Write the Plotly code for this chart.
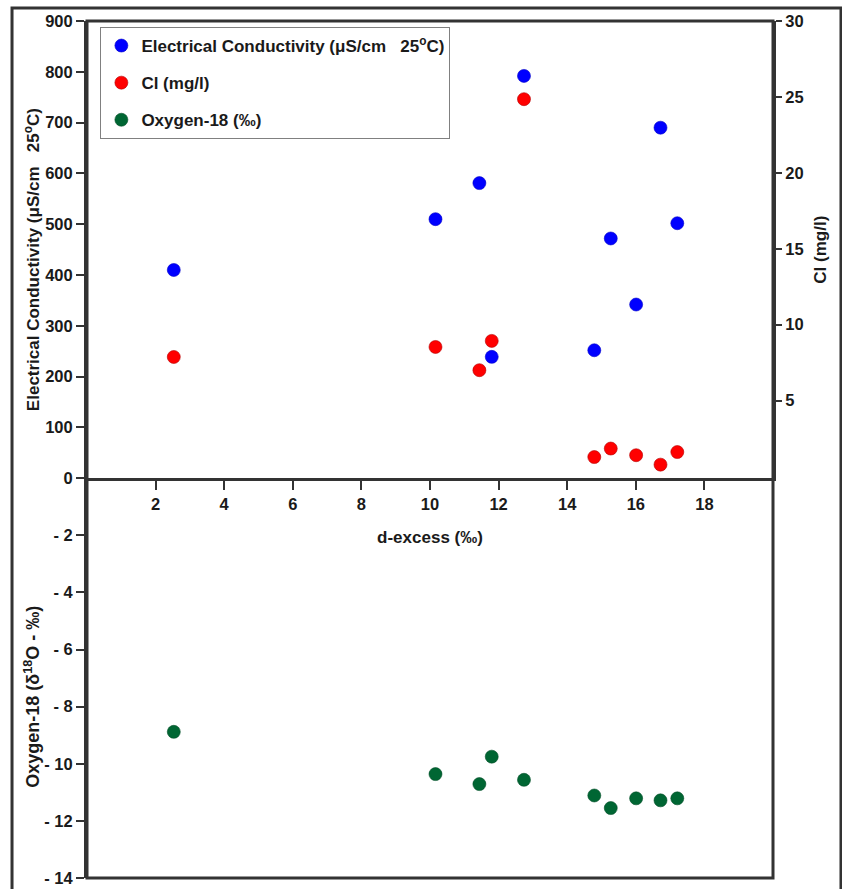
import plotly.graph_objects as go

# ---- data ----
d_excess = [2.53, 10.16, 11.44, 11.80, 12.74, 14.79, 15.27, 16.01, 16.72, 17.21]
ec_values = [410, 510, 581, 239, 792, 252, 472, 342, 690, 502]
cl_values = [7.87, 8.53, 7.00, 8.93, 24.85, 1.28, 1.84, 1.40, 0.78, 1.61]
o18_values = [-8.88, -10.36, -10.71, -9.75, -10.56, -11.11, -11.55, -11.21, -11.28, -11.21]

x_ticks = [2, 4, 6, 8, 10, 12, 14, 16, 18]
ec_ticks = [0, 100, 200, 300, 400, 500, 600, 700, 800, 900]
cl_ticks = [5, 10, 15, 20, 25, 30]
o18_ticks = [-2, -4, -6, -8, -10, -12, -14]
o18_ticktext = ["- 2", "- 4", "- 6", "- 8", "- 10", "- 12", "- 14"]

NB = "\u00a0"
ec_name = "Electrical Conductivity (μS/cm" + NB * 3 + "25<sup>o</sup>C)"
cl_name = "Cl (mg/l)"
o18_name = "Oxygen-18 (‰)"
o18_title = "Oxygen-18 (δ<sup>18</sup>O - ‰)"

FONT = "Liberation Sans, Arial, sans-serif"
AX = "#333333"
TXT = "#1a1a1a"
split = 0.4664

fig = go.Figure()
fig.add_trace(go.Scatter(
    x=d_excess, y=ec_values, mode="markers", name=ec_name,
    xaxis="x", yaxis="y", legendgroup="g1",
    marker=dict(color="#0000ff", size=13, line=dict(color="#0000c8", width=0.6)),
))
fig.add_trace(go.Scatter(
    x=d_excess, y=cl_values, mode="markers", name=cl_name,
    xaxis="x", yaxis="y2", legendgroup="g2",
    marker=dict(color="#ff0000", size=13, line=dict(color="#b30000", width=0.6)),
))
fig.add_trace(go.Scatter(
    x=d_excess, y=o18_values, mode="markers", name=o18_name,
    xaxis="x", yaxis="y3", legendgroup="g3",
    marker=dict(color="#006633", size=13, line=dict(color="#004d26", width=0.6)),
))

tickfont = dict(family=FONT, size=16.5, color=TXT, weight="bold")
titlefont = dict(family=FONT, size=17, color=TXT, weight="bold")

fig.update_layout(
    width=842, height=889,
    margin=dict(l=87, r=69, t=21, b=11),
    plot_bgcolor="white", paper_bgcolor="white",
    font=dict(family=FONT, size=16, color=TXT, weight="bold"),
    showlegend=True,
    legend=dict(
        x=0.0195, y=0.993, xanchor="left", yanchor="top",
        bordercolor="#808080", borderwidth=1, bgcolor="white",
        font=dict(family=FONT, size=17, color=TXT, weight="bold"),
        tracegroupgap=12,
    ),
    xaxis=dict(
        domain=[0, 1], range=[0, 20], anchor="y", automargin=False,
        tickvals=x_ticks, ticks="outside", ticklen=9, tickwidth=2, tickcolor=AX,
        showline=True, linewidth=3, linecolor=AX,
        showgrid=False, zeroline=False, tickfont=tickfont,
        title=dict(text="d-excess (‰)", font=titlefont, standoff=20),
    ),
    yaxis=dict(
        domain=[split, 1], range=[0, 900], anchor="x", automargin=False,
        tickvals=ec_ticks, ticks="outside", ticklen=8, tickwidth=2, tickcolor=AX,
        showline=True, linewidth=3, linecolor=AX,
        showgrid=False, zeroline=False, tickfont=tickfont,
    ),
    yaxis2=dict(
        overlaying="y", side="right", range=[-0.12, 30], anchor="x", automargin=False,
        tickvals=cl_ticks, ticks="outside", ticklen=6, tickwidth=2, tickcolor=AX,
        showline=True, linewidth=3, linecolor=AX,
        showgrid=False, zeroline=False, tickfont=tickfont,
        title=dict(text=cl_name, font=titlefont, standoff=12),
    ),
    yaxis3=dict(
        domain=[0, split], range=[-14, 0], anchor="x", automargin=False,
        tickvals=o18_ticks, ticktext=o18_ticktext,
        ticks="outside", ticklen=8, tickwidth=2, tickcolor=AX,
        showline=True, linewidth=3, linecolor=AX,
        showgrid=False, zeroline=False, tickfont=tickfont,
    ),
    annotations=[
        dict(text=ec_name, textangle=-90, xref="paper", yref="paper",
             x=-0.0800, y=0.7211, xanchor="center", yanchor="middle",
             showarrow=False, font=titlefont),
        dict(text=o18_title, textangle=-90, xref="paper", yref="paper",
             x=-0.0805, y=0.2112, xanchor="center", yanchor="middle",
             showarrow=False, font=dict(family=FONT, size=18, color=TXT, weight="bold")),
    ],
    shapes=[
        dict(type="rect", xref="paper", yref="paper", x0=0, x1=1, y0=0, y1=1,
             line=dict(color=AX, width=3), layer="above"),
        dict(type="rect", xref="paper", yref="paper", x0=-0.1093, x1=1.0991,
             y0=-0.03, y1=1.0152, line=dict(color=AX, width=3), layer="above"),
    ],
)

fig.write_html("out.html")
